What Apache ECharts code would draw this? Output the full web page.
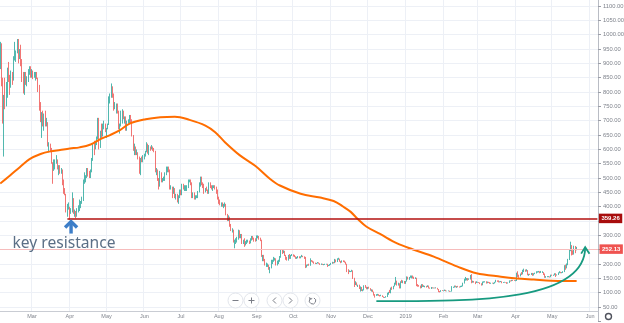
<!DOCTYPE html>
<html>
<head>
<meta charset="utf-8">
<script src="https://cdn.jsdelivr.net/npm/echarts@6/dist/echarts.min.js"></script>
<style>
  html, body { margin: 0; padding: 0; background: #ffffff; }
  #chart { width: 624px; height: 323px; }
</style>
</head>
<body>
<div id="chart"></div>
<script>
// ETH/USD daily candles, 3 Feb 2018 – 21 May 2019. Rows are [open, high, low, close].
const feb2018 = [
  [915,975,880,965],[965,970,820,835],[835,850,690,695],[695,790,575,785],[785,850,740,755],[755,835,750,815],[815,885,780,880],[880,905,835,860],[860,860,790,815],[815,875,815,865],
  [865,870,825,840],[840,925,840,920],[920,975,910,930],[930,945,905,940],[940,985,935,975],[975,985,900,925],[925,950,915,940],[940,965,890,895],[895,915,835,850],[850,870,795,805],
  [805,870,790,860],[860,870,825,840],[840,855,820,845],[845,880,835,870],[870,890,860,880],[880,890,850,855]
];
const mar2018 = [
  [855,880,850,870],[870,875,845,855],[855,870,850,855],[855,870,840,865],[865,870,845,850],[850,850,800,815],[815,825,735,750],[750,765,695,700],[700,730,640,725],[725,735,680,680],
  [680,725,665,720],[720,735,680,690],[690,710,680,690],[690,695,610,610],[610,625,590,610],[610,620,590,600],[600,605,550,550],[550,555,480,540],[540,565,525,555],[555,565,530,560],
  [560,580,550,560],[560,565,530,540],[540,545,510,540],[540,545,515,520],[520,535,515,525],[525,530,475,485],[485,495,445,450],[450,465,440,445],[445,445,380,385],[385,410,365,395],
  [395,415,390,395]
];
const apr2018 = [
  [395,400,355,380],[380,395,375,385],[385,450,380,415],[415,430,375,380],[380,390,365,380],[380,385,360,370],[370,395,365,385],[385,405,380,400],[400,425,385,400],[400,420,395,415],
  [415,435,410,430],[430,495,420,490],[490,520,480,490],[490,510,485,500],[500,535,500,530],[530,535,505,510],[510,525,500,500],[500,530,500,525],[525,570,520,565],[565,620,560,615],
  [615,630,580,605],[605,630,600,620],[620,645,615,640],[640,710,635,705],[705,710,600,620],[620,665,605,660],[660,690,640,645],[645,690,645,685],[685,700,670,685],[685,690,660,670]
];
const may2018 = [
  [670,675,640,675],[675,690,670,690],[690,785,685,780],[780,795,760,785],[785,830,780,815],[815,820,780,790],[790,795,735,750],[750,765,740,750],[750,760,725,750],[750,760,725,730],
  [730,735,670,680],[680,690,655,685],[685,735,680,730],[730,740,690,730],[730,735,705,710],[710,715,690,710],[710,715,665,670],[670,700,665,695],[695,705,690,695],[695,720,690,715],
  [715,720,690,700],[700,705,645,650],[650,650,595,600],[600,620,580,605],[605,610,580,585],[585,600,580,585],[585,590,565,570],[570,575,515,515],[515,570,510,565],[565,575,555,560],
  [560,580,555,575]
];
const jun2018 = [
  [575,585,565,580],[580,595,575,590],[590,625,590,620],[620,620,585,590],[590,615,580,610],[610,610,595,605],[605,615,600,605],[605,610,595,600],[600,605,590,595],[595,595,520,525],
  [525,535,510,530],[530,530,490,495],[495,500,460,475],[475,525,470,520],[520,520,485,490],[490,500,485,495],[495,505,490,495],[495,520,490,515],[515,540,510,535],[535,540,520,535],
  [535,540,520,525],[525,530,460,465],[465,475,460,470],[470,470,430,455],[455,470,445,460],[460,465,430,430],[430,445,425,440],[440,445,415,420],[420,440,410,435],[435,460,430,455]
];
const jul2018 = [
  [455,460,440,450],[450,480,440,475],[475,480,460,465],[465,475,455,465],[465,475,455,465],[465,475,455,470],[470,495,465,490],[490,495,485,490],[490,495,475,480],[480,485,430,435],
  [435,450,430,445],[445,450,425,430],[430,440,425,435],[435,440,430,435],[435,455,430,450],[450,485,450,480],[480,505,470,500],[500,505,475,480],[480,485,465,470],[470,480,445,450],
  [450,465,450,460],[460,470,455,455],[455,460,445,450],[450,485,445,480],[480,485,465,470],[470,475,460,465],[465,475,455,470],[470,475,465,470],[470,475,460,465],[465,470,445,455],
  [455,460,425,435]
];
const aug2018 = [
  [435,435,410,420],[420,425,405,410],[410,415,400,410],[410,415,400,405],[405,410,395,405],[405,415,400,410],[410,410,370,375],[375,375,350,355],[355,370,350,365],[365,365,330,335],
  [335,340,315,320],[320,325,310,320],[320,320,275,280],[280,285,255,280],[280,290,270,280],[280,295,275,290],[290,320,285,315],[315,318,290,295],[295,305,290,300],[300,305,270,275],
  [275,285,270,280],[280,290,260,270],[270,280,265,275],[275,285,270,280],[280,285,275,280],[280,282,270,275],[275,290,272,285],[285,298,282,295],[295,298,285,290],[290,292,278,285],
  [285,290,278,282]
];
const sep2018 = [
  [282,300,280,295],[295,300,290,295],[295,298,285,290],[290,292,280,285],[285,285,225,230],[230,232,210,230],[230,232,210,215],[215,218,195,195],[195,205,190,195],[195,202,190,195],
  [195,198,180,185],[185,190,168,185],[185,215,185,210],[210,215,200,210],[210,225,208,220],[220,222,212,220],[220,220,195,195],[195,212,195,210],[210,215,200,210],[210,228,208,225],
  [225,250,222,245],[245,250,235,240],[240,248,238,245],[245,246,228,230],[230,232,215,220],[220,225,212,215],[215,232,212,230],[230,235,218,220],[220,232,218,230],[230,235,228,232]
];
const oct2018 = [
  [232,234,226,230],[230,232,224,225],[225,227,218,220],[220,225,218,222],[222,228,220,226],[226,227,220,222],[222,227,220,225],[225,232,224,228],[228,229,224,226],[226,227,218,225],
  [225,225,186,190],[190,198,188,195],[195,199,194,198],[198,201,194,196],[196,220,194,212],[212,214,208,210],[210,212,205,208],[208,209,201,203],[203,205,200,201],[201,204,200,203],
  [203,207,202,204],[204,206,201,202],[202,203,197,198],[198,202,197,200],[200,201,197,198],[198,200,196,198],[198,201,197,200],[200,201,198,200],[200,201,190,194],[194,197,193,196],
  [196,200,194,198]
];
const nov2018 = [
  [198,204,197,202],[202,208,201,206],[206,207,202,204],[204,218,203,215],[215,216,206,208],[208,220,207,217],[217,222,215,218],[218,219,208,210],[210,211,203,205],[205,213,205,212],
  [212,213,207,211],[211,212,205,207],[207,208,198,200],[200,201,172,180],[180,182,165,174],[174,178,172,175],[175,176,172,175],[175,180,173,177],[177,178,148,150],[150,152,120,130],
  [130,140,127,135],[135,136,125,125],[125,128,120,125],[125,128,113,115],[115,122,104,118],[118,120,106,110],[110,112,105,110],[110,126,108,125],[125,127,117,120],[120,121,112,114]
];
const dec2018 = [
  [114,120,112,119],[119,121,114,115],[115,116,107,108],[108,112,104,110],[110,111,102,103],[103,104,90,92],[92,95,83,91],[91,95,89,92],[92,96,90,93],[93,95,89,91],
  [91,92,87,89],[89,93,88,91],[91,91,85,86],[86,87,82,84],[84,85,82,84],[84,88,83,86],[86,100,85,96],[96,103,93,102],[102,110,99,100],[100,118,98,117],
  [117,121,110,115],[115,124,112,123],[123,135,122,130],[130,155,128,140],[140,142,125,130],[130,135,125,131],[131,133,115,117],[117,140,115,138],[138,145,134,135],[135,143,133,141],
  [141,141,131,133]
];
const jan2019 = [
  [133,141,131,140],[140,157,139,155],[155,156,146,148],[148,155,145,154],[154,160,152,155],[155,160,150,158],[158,160,150,151],[151,156,148,150],[150,154,148,150],[150,152,123,127],
  [127,130,121,125],[125,127,121,124],[124,125,115,116],[116,130,116,128],[128,130,120,121],[121,126,120,123],[123,124,119,123],[123,124,118,120],[120,126,120,124],[124,125,115,117],
  [117,118,114,116],[116,120,113,118],[118,119,115,116],[116,118,115,117],[117,118,115,116],[116,119,115,116],[116,117,111,113],[113,113,102,105],[105,106,101,104],[104,109,103,108],
  [108,109,106,107]
];
const feb2019 = [
  [107,108,105,107],[107,111,106,110],[110,110,105,106],[106,107,105,106],[106,108,105,107],[107,107,103,104],[104,105,103,104],[104,123,104,119],[119,121,117,119],[119,125,118,124],
  [124,125,119,120],[120,123,117,122],[122,124,119,121],[121,122,118,120],[120,124,119,121],[121,125,120,123],[123,135,122,133],[133,149,132,145],[145,155,142,145],[145,151,143,150],
  [150,151,142,146],[146,150,145,148],[148,162,146,160],[160,165,133,136],[136,142,135,140],[140,141,135,137],[137,139,130,136],[136,140,134,136]
];
const mar2019 = [
  [136,138,135,136],[136,137,134,135],[135,136,130,132],[132,133,125,126],[126,139,126,138],[138,140,135,138],[138,140,136,138],[138,140,132,134],[134,139,133,138],[138,138,134,136],
  [136,137,131,133],[133,135,131,134],[134,135,132,133],[133,135,130,133],[133,138,132,137],[137,145,136,142],[142,143,138,140],[140,143,136,137],[137,140,136,139],[139,141,137,139],
  [139,140,133,135],[135,137,134,136],[136,138,135,137],[137,137,135,136],[136,137,131,133],[133,136,132,135],[135,143,134,142],[142,143,139,141],[141,145,140,144],[144,145,141,143],
  [143,144,141,142]
];
const apr2019 = [
  [142,144,140,142],[142,170,141,164],[164,175,155,160],[160,163,152,158],[158,167,157,166],[166,172,162,165],[165,180,164,177],[177,184,172,180],[180,181,173,177],[177,182,174,178],
  [178,179,161,164],[164,166,159,165],[165,166,162,164],[164,169,162,168],[168,169,159,161],[161,168,160,167],[167,170,165,168],[168,175,167,173],[173,175,170,173],[173,176,171,174],
  [174,175,168,171],[171,176,169,171],[171,175,169,171],[171,172,162,165],[165,167,152,155],[155,158,152,155],[155,158,154,156],[156,158,154,156],[156,157,153,155],[155,163,154,162]
];
const may2019 = [
  [162,163,159,160],[160,163,159,162],[162,168,161,167],[167,168,155,162],[162,164,160,163],[163,171,162,170],[170,175,168,172],[172,173,168,170],[170,172,168,170],[170,175,169,173],
  [173,196,172,194],[194,198,180,188],[188,202,185,200],[200,218,196,216],[216,250,214,248],[248,278,245,262],[262,266,230,246],[246,248,232,234],[234,264,233,262],[262,263,238,251],
  [251,260,248,252.13]
];

// 200-day moving average, sampled along its course
const maDates = [
  '2018-02-03','2018-02-11','2018-02-19','2018-02-27','2018-03-08','2018-03-16','2018-03-24','2018-04-01','2018-04-09','2018-04-18',
  '2018-04-26','2018-05-04','2018-05-12','2018-05-20','2018-06-02','2018-06-14','2018-06-26','2018-07-08','2018-07-21','2018-07-29',
  '2018-08-06','2018-08-18','2018-08-31','2018-09-12','2018-09-20','2018-10-07','2018-10-23','2018-11-03','2018-11-11','2018-11-17',
  '2018-11-23','2018-11-30','2018-12-11','2018-12-25','2019-01-07','2019-01-24','2019-02-12','2019-02-28','2019-03-20','2019-04-02',
  '2019-04-16','2019-04-30','2019-05-13','2019-05-21'
];
const maValues = [
  481,509,538,566,584,593,598,603,607,617,
  636,650,667,690,705,712,714,703,683,660,
  625,580,542,497,474,445,432,420,400,382,
  356,330,305,272,251,226,192,168,156,150,
  146,142,141,141
];

const firstDay = '2018-02-03';
const lastDay = '2019-06-07';
const resistancePrice = 359.26;
const resistanceFrom = '2018-03-30';
const lastPrice = 252.13;
const monthNames = ['Jan','Feb','Mar','Apr','May','Jun','Jul','Aug','Sep','Oct','Nov','Dec'];

// annotation anchors, in (date, price)
const arrowTip = ['2018-04-02', 350];
const noteAnchor = ['2018-02-13', 273];
const noteText = 'key resistance';
const arcStart = ['2018-12-08', 71];
const arcCtrl1 = ['2019-03-03', 68];
const arcCtrl2 = ['2019-05-28', 74];
const arcEnd = ['2019-05-28', 259];

const candles = [].concat(feb2018, mar2018, apr2018, may2018, jun2018, jul2018, aug2018,
  sep2018, oct2018, nov2018, dec2018, jan2019, feb2019, mar2019, apr2019, may2019);

function dayList(from, to) {
  const out = [];
  const parse = s => Date.UTC(+s.slice(0, 4), +s.slice(5, 7) - 1, +s.slice(8, 10));
  for (let t = parse(from); t <= parse(to); t += 86400000) {
    out.push(new Date(t).toISOString().slice(0, 10));
  }
  return out;
}
const days = dayList(firstDay, lastDay);

const isMonthStart = (i, v) => v.slice(8) === '01';
const monthLabel = v => {
  const m = +v.slice(5, 7);
  return m === 1 ? v.slice(0, 4) : monthNames[m - 1];
};

const TEAL = '#26a69a', RED = '#ef5350', GRID = '#edf0f6', AXIS_TXT = '#7f838c';
const FONT = 'Liberation Sans';

const chart = echarts.init(document.getElementById('chart'), null, { renderer: 'canvas' });

const option = {
  animation: false,
  backgroundColor: '#ffffff',
  grid: [
    { left: -0.36, right: 26, top: -8.3, bottom: 1.6, containLabel: false, outerBoundsMode: 'none' },
    { left: -0.36, right: 26, top: 310, height: 1, containLabel: false, outerBoundsMode: 'none' }
  ],
  xAxis: [
    {
      type: 'category', gridIndex: 0, data: days, boundaryGap: true,
      axisLine: { show: false }, axisTick: { show: false }, axisLabel: { show: false },
      splitLine: { show: true, interval: isMonthStart, lineStyle: { color: GRID, width: 1 } }
    },
    {
      type: 'category', gridIndex: 1, data: days, boundaryGap: true, position: 'bottom', z: 6,
      axisLine: { show: true, lineStyle: { color: '#c9ccd3', width: 1 } },
      axisTick: { show: false },
      axisLabel: { interval: isMonthStart, formatter: monthLabel, fontSize: 5.5, color: AXIS_TXT, fontFamily: FONT, margin: 2.5 },
      splitLine: { show: false }
    }
  ],
  yAxis: [
    {
      type: 'value', gridIndex: 0, position: 'right', min: 0, max: 1150, interval: 50,
      axisLine: { show: true, lineStyle: { color: '#b9bcc4', width: 1 } },
      axisTick: { show: true, length: 3, lineStyle: { color: '#9a9da6' } },
      axisLabel: {
        margin: 5, fontSize: 5.8, color: AXIS_TXT, fontFamily: FONT,
        formatter: v => (v >= 50 && v <= 1100 && v !== 350 && v !== 250) ? v.toFixed(2) : ''
      },
      splitLine: { show: true, lineStyle: { color: GRID, width: 1 } }
    },
    { type: 'value', gridIndex: 1, show: false, min: 0, max: 1 }
  ],
  series: [
    {
      type: 'candlestick', xAxisIndex: 0, yAxisIndex: 0, z: 3,
      data: candles.map(r => [r[0], r[3], r[2], r[1]]),
      barWidth: '62%',
      itemStyle: { color: TEAL, color0: RED, borderColor: TEAL, borderColor0: RED, borderWidth: 0.8 },
      markLine: {
        silent: true, animation: false, symbol: ['none', 'none'],
        data: [
          {
            yAxis: lastPrice,
            lineStyle: { color: '#f6bcbc', width: 1, type: 'solid' },
            label: {
              show: true, position: 'end', distance: 1.5, formatter: lastPrice.toFixed(2),
              backgroundColor: RED, color: '#ffffff', fontSize: 6, fontWeight: 'bold', fontFamily: FONT,
              padding: [2, 2.5, 1.5, 2.5]
            }
          },
          [
            {
              coord: [resistanceFrom, resistancePrice],
              lineStyle: { color: '#b3100f', width: 1.6, type: 'solid' },
              label: {
                show: true, position: 'end', distance: 1.5, formatter: resistancePrice.toFixed(2),
                backgroundColor: '#a80d0d', color: '#ffffff', fontSize: 6, fontWeight: 'bold', fontFamily: FONT,
                padding: [2, 2.5, 1.5, 2.5]
              }
            },
            { coord: [lastDay, resistancePrice] }
          ]
        ]
      }
    },
    {
      type: 'line', name: 'MA200', xAxisIndex: 0, yAxisIndex: 0, z: 4,
      data: maDates.map((d, i) => [d, maValues[i]]),
      smooth: 0.35, showSymbol: false, symbol: 'none',
      lineStyle: { color: '#ff6d00', width: 2 }
    },
    { type: 'line', xAxisIndex: 1, yAxisIndex: 1, data: [] }
  ]
};
chart.setOption(option);

// annotations placed through the grid's coordinate system
const px = pt => chart.convertToPixel({ gridIndex: 0 }, pt);
const tip = px(arrowTip);
const note = px(noteAnchor);
const a0 = px(arcStart), a1 = px(arcCtrl1), a2 = px(arcCtrl2), a3 = px(arcEnd);
const plotRight = px([lastDay, 0])[0] + 0.61;

const ARC = '#179a80', BLUE = '#3d7ec8', BTN = '#7b7e87';
const elements = [
  // blank strip under the time axis
  { type: 'rect', z: 1, silent: true, shape: { x: 0, y: 311, width: plotRight, height: 14 }, style: { fill: '#ffffff' } },
  // arrow under the April low
  { type: 'polyline', z: 20, shape: { points: [[tip[0] - 6, tip[1] + 6.5], [tip[0], tip[1] + 0.5], [tip[0] + 6, tip[1] + 6.5]] },
    style: { stroke: BLUE, lineWidth: 3.4, fill: null, lineJoin: 'miter', lineCap: 'butt' } },
  { type: 'line', z: 20, shape: { x1: tip[0], y1: tip[1] + 1, x2: tip[0], y2: tip[1] + 12.5 },
    style: { stroke: BLUE, lineWidth: 3.4 } },
  { type: 'text', z: 20, x: note[0], y: note[1],
    style: { text: noteText, fill: '#5b6f86', font: '15.6px "Noto Sans"', textAlign: 'left', textVerticalAlign: 'middle', align: 'left', verticalAlign: 'middle' } },
  // rounding-bottom arc with arrow head
  { type: 'bezierCurve', z: 20,
    shape: { x1: a0[0], y1: a0[1], cpx1: a1[0], cpy1: a1[1], cpx2: a2[0], cpy2: a2[1], x2: a3[0], y2: a3[1] },
    style: { stroke: ARC, lineWidth: 1.8, fill: null } },
  { type: 'polyline', z: 20, shape: { points: [[a3[0] - 4, a3[1] + 6.5], [a3[0], a3[1]], [a3[0] + 4.3, a3[1] + 6.5]] },
    style: { stroke: ARC, lineWidth: 1.8, fill: null } }
];

// chart navigation buttons
const btnY = 300.5, btnR = 7.5;
const buttons = [
  { x: 235.5, kind: 'minus' }, { x: 251.5, kind: 'plus' },
  { x: 274.5, kind: 'left' }, { x: 290.5, kind: 'right' }, { x: 312.5, kind: 'reset' }
];
buttons.forEach(b => {
  elements.push({ type: 'circle', z: 30, shape: { cx: b.x, cy: btnY, r: btnR },
    style: { fill: '#ffffff', stroke: '#e3e6ec', lineWidth: 1 } });
  const s = { stroke: BTN, lineWidth: 1, fill: null };
  if (b.kind === 'minus' || b.kind === 'plus') {
    elements.push({ type: 'line', z: 31, shape: { x1: b.x - 3, y1: btnY, x2: b.x + 3, y2: btnY }, style: s });
  }
  if (b.kind === 'plus') {
    elements.push({ type: 'line', z: 31, shape: { x1: b.x, y1: btnY - 3, x2: b.x, y2: btnY + 3 }, style: s });
  }
  if (b.kind === 'left') {
    elements.push({ type: 'polyline', z: 31, shape: { points: [[b.x + 1.5, btnY - 3], [b.x - 1.5, btnY], [b.x + 1.5, btnY + 3]] }, style: s });
  }
  if (b.kind === 'right') {
    elements.push({ type: 'polyline', z: 31, shape: { points: [[b.x - 1.5, btnY - 3], [b.x + 1.5, btnY], [b.x - 1.5, btnY + 3]] }, style: s });
  }
  if (b.kind === 'reset') {
    elements.push({ type: 'arc', z: 31, shape: { cx: b.x, cy: btnY + 0.3, r: 3.2, startAngle: -Math.PI * 0.35, endAngle: Math.PI * 1.35 }, style: s });
    elements.push({ type: 'polyline', z: 31, shape: { points: [[b.x - 3.2, btnY - 3.2], [b.x - 2.3, btnY - 1.2], [b.x - 0.3, btnY - 2]] }, style: s });
  }
});

// settings gear in the axis corner
elements.push({ type: 'circle', z: 30, shape: { cx: 608.5, cy: 316.5, r: 3 },
  style: { fill: null, stroke: '#4f525c', lineWidth: 1.4 } });

chart.setOption({ graphic: { elements: elements } });
</script>
</body>
</html>
